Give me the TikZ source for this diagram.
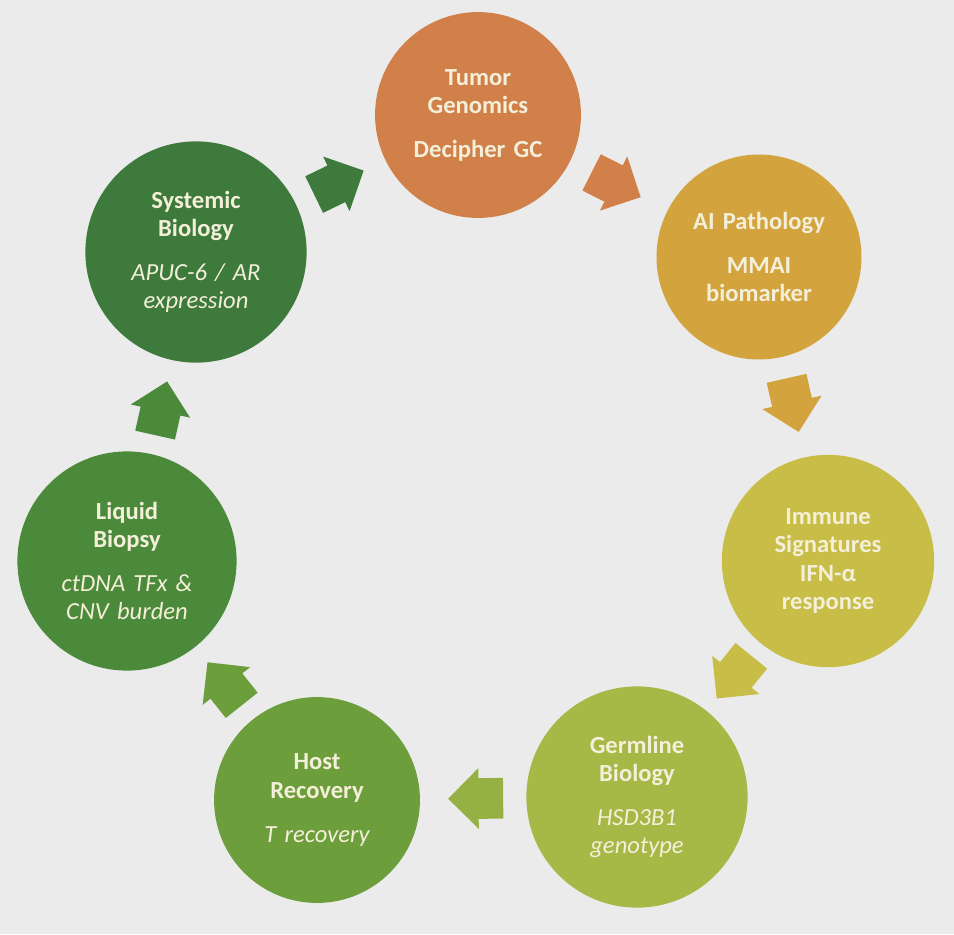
\documentclass[tikz,border=0pt]{standalone}
\usepackage{fontspec}
\setmainfont{Carlito}
\usepackage{xcolor}
\usetikzlibrary{shapes.arrows}
\definecolor{bgcol}{HTML}{EBEBEB}
\definecolor{txtcol}{HTML}{F4EFD9}
\definecolor{tumorcol}{HTML}{D08048}
\definecolor{aicol}{HTML}{D3A33E}
\definecolor{immunecol}{HTML}{C8BD46}
\definecolor{germcol}{HTML}{A6B846}
\definecolor{hostcol}{HTML}{6D9E3C}
\definecolor{liquidcol}{HTML}{4C8A3B}
\definecolor{systcol}{HTML}{3E7A3B}

\begin{document}
\begin{tikzpicture}[x=0.02cm, y=-0.02cm, main node/.style={circle,minimum size=4.1cm,inner sep=0pt,text width=3.7cm,align=center,text=txtcol,font=\fontsize{14}{16}\selectfont\bfseries}, cyc arrow/.style={single arrow,minimum height=1.1cm,inner xsep=0pt,inner ysep=0.4cm,single arrow head extend=0.2cm,sloped,allow upside down,pos=0.38}]
\fill[bgcol] (0,0) rectangle (954,934);
\begin{scope}
\node[main node, fill=tumorcol] (c1) at (478,115) {Tumor\\Genomics\\[9pt]Decipher GC};
\node[main node, fill=aicol] (c2) at (759,257) {AI Pathology\\[9pt]MMAI\\biomarker};
\node[main node, fill=immunecol] (c3) at (828,561) {Immune\\Signatures\\IFN-α\\response};
\node[main node, fill=germcol] (c4) at (637,797) {Germline\\Biology\\[9pt]\mdseries\itshape HSD3B1\\genotype};
\node[main node, fill=hostcol] (c5) at (317,800) {Host\\Recovery\\[9pt]\mdseries\itshape T recovery};
\node[main node, fill=liquidcol] (c6) at (127,561) {Liquid\\Biopsy\\[9pt]\mdseries\itshape ctDNA TFx \&\\CNV burden};
\node[main node, fill=systcol] (c7) at (196,252) {Systemic\\Biology\\[9pt]\mdseries\itshape APUC-6 / AR\\expression};
\end{scope}
\begin{scope}
\path (c1) -- node[cyc arrow, fill=tumorcol]{} (c2);
\path (c2) -- node[cyc arrow, fill=aicol]{} (c3);
\path (c3) -- node[cyc arrow, fill=immunecol]{} (c4);
\path (c4) -- node[cyc arrow, fill=germcol!70!hostcol]{} (c5);
\path (c5) -- node[cyc arrow, fill=hostcol]{} (c6);
\path (c6) -- node[cyc arrow, fill=liquidcol]{} (c7);
\path (c7) -- node[cyc arrow, fill=systcol]{} (c1);
\end{scope}
\end{tikzpicture}
\end{document}
